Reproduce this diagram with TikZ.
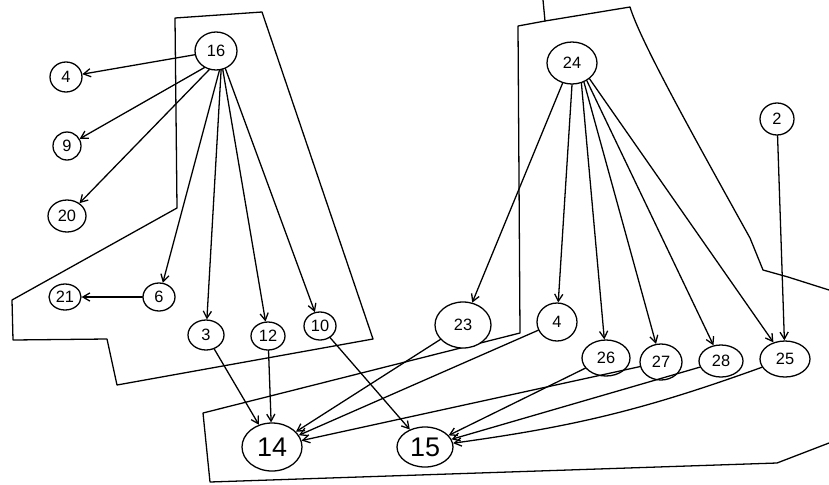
\documentclass[tikz,border=0pt]{standalone}
\usepackage{fontspec}
\setmainfont{Liberation Sans}
\usetikzlibrary{shapes.geometric,arrows.meta}
\begin{document}
\begin{tikzpicture}[x=0.3mm,y=-0.3mm,
  line width=1.1pt, line join=round, line cap=round,
  vtx/.style={ellipse,draw,fill=white,inner sep=0pt,font=\fontsize{14}{14}\selectfont},
  big/.style={font=\fontsize{23}{23}\selectfont},
  rad/.style 2 args={minimum width=#1*0.6mm,minimum height=#2*0.6mm},
  dep/.style={-{Straight Barb[length=6pt,width=7pt]}}]
\useasboundingbox (0,0) rectangle (829,484);

% module outlines
\draw (175,18) -- (262,12) -- (373,339) -- (117,385) -- (107,339)
      -- (13,340) -- (12,300) -- (177,208) -- cycle;
\draw (543,0) -- (545,21);
\draw (829,290) -- (788,277) -- (763,270) -- (750,238)
      .. controls (690,130) and (640,40) .. (630,7)
      -- (545,21) -- (518,26) -- (520,333) -- (203,413) -- (210,482)
      -- (777,463) -- (829,443);

% nodes
\node[vtx,rad={21}{19}] (n16) at (216,51) {16};
\node[vtx,rad={16}{15}] (l4) at (66,77) {4};
\node[vtx,rad={14}{14}] (n9) at (67,146) {9};
\node[vtx,rad={19}{16}] (n20) at (67,216) {20};
\node[vtx,rad={16}{13}] (n21) at (65,297) {21};
\node[vtx,rad={16}{14}] (n6) at (159,297) {6};
\node[vtx,rad={18}{15}] (n3) at (206,335) {3};
\node[vtx,rad={17}{14}] (n12) at (268,336) {12};
\node[vtx,rad={16}{14}] (n10) at (320,326) {10};
\node[vtx,big,rad={30}{24}] (n14) at (272,447) {14};
\node[vtx,big,rad={28}{20}] (n15) at (425,447) {15};
\node[vtx,rad={25}{21}] (n24) at (572,63) {24};
\node[vtx,rad={17}{16}] (n2) at (777,119) {2};
\node[vtx,rad={28}{23}] (n23) at (463,325) {23};
\node[vtx,rad={20}{19}] (r4) at (557,322) {4};
\node[vtx,rad={24}{18}] (n26) at (606,358) {26};
\node[vtx,rad={21}{18}] (n27) at (661,362) {27};
\node[vtx,rad={22}{16}] (n28) at (721,361) {28};
\node[vtx,rad={25}{18}] (n25) at (785,359) {25};

% dependencies
\draw[dep] (n16.190) -- (l4);
\draw[dep] (n16.-125) -- (n9);
\draw[dep] (n16.-110) -- (n20);
\draw[dep] (n16.-80) -- (n6);
\draw[dep] (n16.-75) -- (n3);
\draw[dep] (n16.-70) -- (n12);
\draw[dep] (n16.-62) -- (n10);
\draw[dep] (n6) -- (n21);
\draw[dep] (n3) -- (n14);
\draw[dep] (n12) -- (n14);
\draw[dep] (n10) -- (n15);
\draw[dep] (n23) -- (n14);
\draw[dep] (r4) -- (n14);
\draw[dep] (n27) -- (n14);
\draw[dep] (n24.-115) -- (n23);
\draw[dep] (n24.-90) -- (r4);
\draw[dep] (n24.-65) -- (n26);
\draw[dep] (n24.-58) -- (n27);
\draw[dep] (n24.-50) -- (n28);
\draw[dep] (n24.-42) -- (n25);
\draw[dep] (n2) -- (n25);
\draw[dep] (n26) -- (n15);
\draw[dep] (n28) -- (n15);
\draw[dep] (n25) to[bend left=6] (n15);
\end{tikzpicture}
\end{document}
